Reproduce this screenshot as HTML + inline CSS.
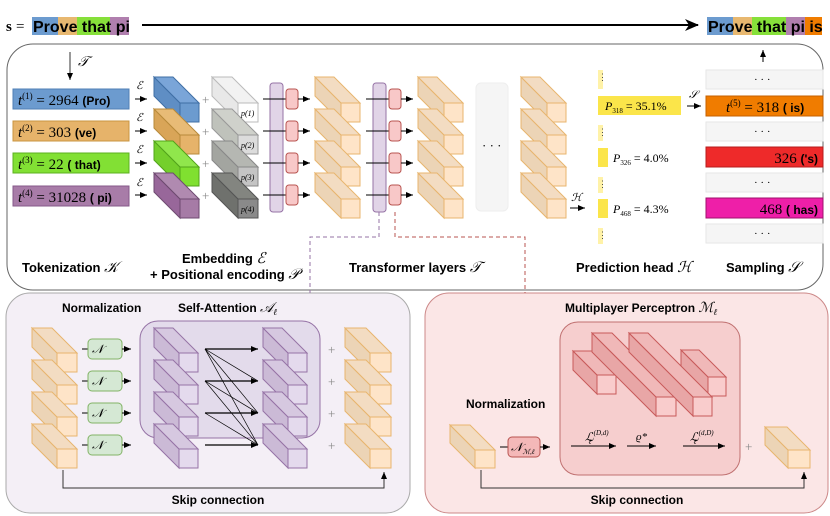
<!DOCTYPE html>
<html><head><meta charset="utf-8"><style>
body{margin:0;background:#fff}
svg{display:block}
.b{font-family:"Liberation Sans",sans-serif;font-weight:bold}
.m{font-family:"Liberation Serif",serif;font-style:italic}
.r{font-family:"Liberation Serif",serif}
</style></head><body>
<svg id="s" width="830" height="516" viewBox="0 0 830 516" xmlns="http://www.w3.org/2000/svg">
<defs>
<marker id="ah" markerWidth="8" markerHeight="8" refX="7" refY="4" orient="auto" markerUnits="userSpaceOnUse"><path d="M0,1 L7,4 L0,7 Z" fill="#000"/></marker>
<marker id="ahb" markerWidth="14" markerHeight="12" refX="13" refY="6" orient="auto" markerUnits="userSpaceOnUse"><path d="M0,0 L14,6 L0,12 L4,6 Z" fill="#000"/></marker>
</defs>
<text x="6" y="31" class="r" font-size="15" font-weight="bold">s</text>
<text x="16" y="31" class="r" font-size="15">=</text>
<rect x="32" y="17" width="26" height="18" fill="#6c9bcf"/><rect x="58" y="17" width="19" height="18" fill="#e8b870"/><rect x="77" y="17" width="33" height="18" fill="#86e03a"/><rect x="110" y="17" width="19" height="18" fill="#b07fae"/>
<text x="33" y="32" class="b" font-size="16">Prove that pi</text>
<line x1="142" y1="25" x2="698" y2="25" stroke="#000" stroke-width="2" marker-end="url(#ahb)"/>
<rect x="707" y="17" width="26" height="18" fill="#6c9bcf"/><rect x="733" y="17" width="19" height="18" fill="#e8b870"/><rect x="752" y="17" width="34" height="18" fill="#86e03a"/><rect x="786" y="17" width="19" height="18" fill="#b07fae"/><rect x="805" y="17" width="17" height="18" fill="#f07c00"/>
<text x="708" y="32" class="b" font-size="16">Prove that pi is</text>

<rect x="7" y="44" width="816" height="246" rx="26" fill="#fff" stroke="#666" stroke-width="1"/>
<line x1="70" y1="52" x2="70" y2="80" stroke="#333" marker-end="url(#ah)"/>
<text x="78" y="66" class="m" font-size="14">𝒯</text>

<g font-size="15">
<rect x="13" y="89" width="116" height="20" fill="#6c9bcf" stroke="#4f7fb5"/>
<text x="18" y="105"><tspan class="m">t</tspan><tspan class="r" font-size="9" dy="-6">(1)</tspan><tspan class="r" dy="6"> = 2964 </tspan><tspan class="b" font-size="12">(Pro)</tspan></text>
<rect x="13" y="121" width="116" height="20" fill="#e6b36a" stroke="#c99540"/>
<text x="18" y="137"><tspan class="m">t</tspan><tspan class="r" font-size="9" dy="-6">(2)</tspan><tspan class="r" dy="6"> = 303 </tspan><tspan class="b" font-size="12">(ve)</tspan></text>
<rect x="13" y="153" width="116" height="20" fill="#82e034" stroke="#5cb020"/>
<text x="18" y="169"><tspan class="m">t</tspan><tspan class="r" font-size="9" dy="-6">(3)</tspan><tspan class="r" dy="6"> = 22 </tspan><tspan class="b" font-size="12">( that)</tspan></text>
<rect x="13" y="186" width="116" height="20" fill="#a87ca8" stroke="#86598a"/>
<text x="18" y="202"><tspan class="m">t</tspan><tspan class="r" font-size="9" dy="-6">(4)</tspan><tspan class="r" dy="6"> = 31028 </tspan><tspan class="b" font-size="12">( pi)</tspan></text>
</g>
<g class="m" font-size="11">
<text x="136" y="89">ℰ</text><text x="136" y="121">ℰ</text><text x="136" y="153">ℰ</text><text x="136" y="186">ℰ</text>
</g>
<g stroke="#000" marker-end="url(#ah)">
<line x1="135" y1="99" x2="147" y2="99"/><line x1="135" y1="131" x2="147" y2="131"/><line x1="135" y1="163" x2="147" y2="163"/><line x1="135" y1="195" x2="147" y2="195"/>
</g>
<g fill="#888" font-size="13" class="r"><text x="202" y="104">+</text><text x="202" y="136">+</text><text x="202" y="168">+</text><text x="202" y="200">+</text></g>
<g id="prisms"></g>
<rect x="270" y="83" width="13" height="129" rx="3" fill="#e1d4e7" stroke="#9673a6"/>
<rect x="373" y="83" width="13" height="129" rx="3" fill="#e1d4e7" stroke="#9673a6"/>
<g id="rb"></g>
<rect x="476" y="83" width="32" height="128" rx="5" fill="#f5f5f5" stroke="#eee"/>
<text x="482" y="150" font-size="13" class="r">· · ·</text>
<text x="571" y="201" class="m" font-size="11">ℋ</text>
<line x1="570" y1="208" x2="585" y2="208" stroke="#000" marker-end="url(#ah)"/>

<g fill="#fff2a8"><rect x="598" y="70" width="5" height="19"/><rect x="598" y="125" width="5" height="16"/><rect x="598" y="177" width="5" height="16"/><rect x="598" y="228" width="5" height="16"/></g>
<g font-size="9" fill="#444"><text x="598" y="80">⋮</text><text x="598" y="135">⋮</text><text x="598" y="187">⋮</text><text x="598" y="238">⋮</text></g>
<rect x="598" y="96" width="83" height="19" fill="#fbe54a"/>
<text x="605" y="110" font-size="12"><tspan class="m">P</tspan><tspan class="r" font-size="7" dy="3">318</tspan><tspan class="r" dy="-3"> = 35.1%</tspan></text>
<rect x="598" y="148" width="10" height="19" fill="#fbe54a"/>
<text x="613" y="162" font-size="12"><tspan class="m">P</tspan><tspan class="r" font-size="7" dy="3">326</tspan><tspan class="r" dy="-3"> = 4.0%</tspan></text>
<rect x="598" y="199" width="10" height="19" fill="#fbe54a"/>
<text x="613" y="213" font-size="12"><tspan class="m">P</tspan><tspan class="r" font-size="7" dy="3">468</tspan><tspan class="r" dy="-3"> = 4.3%</tspan></text>
<text x="689" y="98" class="m" font-size="11">𝒮</text>
<line x1="687" y1="106" x2="701" y2="106" stroke="#000" marker-end="url(#ah)"/>

<line x1="763" y1="62" x2="763" y2="50" stroke="#000" marker-end="url(#ah)"/>
<g fill="#f5f5f5" stroke="#e6e6e6"><rect x="706" y="70" width="117" height="19"/><rect x="706" y="122" width="117" height="19"/><rect x="706" y="173" width="117" height="19"/><rect x="706" y="224" width="117" height="19"/></g>
<g font-size="11" class="r"><text x="754" y="83">· · ·</text><text x="754" y="135">· · ·</text><text x="754" y="186">· · ·</text><text x="754" y="237">· · ·</text></g>
<rect x="706" y="96" width="117" height="20" fill="#f07c00" stroke="#c66000"/>
<text x="726" y="112" font-size="15"><tspan class="m">t</tspan><tspan class="r" font-size="9" dy="-6">(5)</tspan><tspan class="r" dy="6"> = 318 </tspan><tspan class="b" font-size="12">( is)</tspan></text>
<rect x="706" y="147" width="117" height="20" fill="#ee2a2a" stroke="#b71c1c"/>
<text x="818" y="163" text-anchor="end" font-size="15"><tspan class="r">326 </tspan><tspan class="b" font-size="12">('s)</tspan></text>
<rect x="706" y="198" width="117" height="20" fill="#ee1fa8" stroke="#a0106e"/>
<text x="818" y="214" text-anchor="end" font-size="15"><tspan class="r">468 </tspan><tspan class="b" font-size="12">( has)</tspan></text>

<g class="b" font-size="13">
<text x="22" y="272">Tokenization <tspan class="m" font-weight="normal" font-size="15">𝒦</tspan></text>
<text x="182" y="263">Embedding <tspan class="m" font-weight="normal" font-size="15">ℰ</tspan></text>
<text x="150" y="279">+ Positional encoding <tspan class="m" font-weight="normal" font-size="15">𝒫</tspan></text>
<text x="349" y="272">Transformer layers <tspan class="m" font-weight="normal" font-size="15">𝒯</tspan></text>
<text x="576" y="272">Prediction head <tspan class="m" font-weight="normal" font-size="15">ℋ</tspan></text>
<text x="726" y="272">Sampling <tspan class="m" font-weight="normal" font-size="15">𝒮</tspan></text>
</g>

<rect x="6" y="293" width="404" height="220" rx="24" fill="#f4eff6" stroke="#aaa"/>
<rect x="425" y="293" width="403" height="220" rx="24" fill="#fbe6e6" stroke="#c88"/>
<path d="M379 212 V237 H310 V293" fill="none" stroke="#9673a6" stroke-dasharray="4,3"/>
<path d="M395 212 V237 H525 V293" fill="none" stroke="#b85450" stroke-dasharray="4,3"/>
<rect x="140" y="321" width="180" height="117" rx="18" fill="#e3dbeb" stroke="#9673a6"/>
<rect x="560" y="322" width="180" height="153" rx="18" fill="#f6cece" stroke="#c07070"/>
<g class="b" font-size="12">
<text x="62" y="312">Normalization</text>
<text x="178" y="312">Self-Attention <tspan class="m" font-weight="normal" font-size="14">𝒜</tspan><tspan class="m" font-weight="normal" font-size="9" dy="3">ℓ</tspan></text>
<text x="565" y="312">Multiplayer Perceptron <tspan class="m" font-weight="normal" font-size="14">ℳ</tspan><tspan class="m" font-weight="normal" font-size="9" dy="3">ℓ</tspan></text>
<text x="466" y="408">Normalization</text>
<text x="218" y="504" text-anchor="middle">Skip connection</text>
<text x="637" y="504" text-anchor="middle">Skip connection</text>
</g>
<g id="bot"></g>
<g fill="#888" font-size="13" class="r"><text x="328" y="354">+</text><text x="328" y="386">+</text><text x="328" y="418">+</text><text x="328" y="450">+</text><text x="745" y="451">+</text></g>
<path d="M63 470 V488 H384 V472" fill="none" stroke="#333" marker-end="url(#ah)"/>
<path d="M481 470 V488 H804 V472" fill="none" stroke="#333" marker-end="url(#ah)"/>
<line x1="500" y1="447" x2="508" y2="447" stroke="#000"/>
<rect x="508" y="437" width="32" height="20" rx="4" fill="#f4b8b8" stroke="#b85450"/>
<text x="511" y="451" font-size="12"><tspan class="m">𝒩</tspan><tspan class="m" font-size="7" dy="3">ℳ,ℓ</tspan></text>
<line x1="540" y1="447" x2="550" y2="447" stroke="#000" marker-end="url(#ah)"/>
<g stroke="#000" marker-end="url(#ah)"><line x1="571" y1="446" x2="616" y2="446"/><line x1="627" y1="446" x2="656" y2="446"/><line x1="683" y1="446" x2="725" y2="446"/></g>
<text x="585" y="441" font-size="12"><tspan class="m">ℒ</tspan><tspan class="m" font-size="7" dy="-6">(D,d)</tspan><tspan class="m" font-size="7" dx="-20" dy="9">ℓ</tspan></text>
<text x="636" y="440" class="m" font-size="11">ϱ*</text>
<text x="690" y="441" font-size="12"><tspan class="m">ℒ</tspan><tspan class="m" font-size="7" dy="-6">(d,D)</tspan><tspan class="m" font-size="7" dx="-20" dy="9">ℓ</tspan></text>
<g id="norms"></g>
</svg>
<script>
var NS="http://www.w3.org/2000/svg";
function el(p,t,a){var e=document.createElementNS(NS,t);for(var k in a)e.setAttribute(k,a[k]);p.appendChild(e);return e;}
function prism(g,x,y,w,h,d,side,top,front,st){
 el(g,"polygon",{points:[x-d,y-d,x,y,x,y+h,x-d,y+h-d].join(" "),fill:side,stroke:st});
 el(g,"polygon",{points:[x-d,y-d,x-d+w,y-d,x+w,y,x,y].join(" "),fill:top,stroke:st});
 el(g,"rect",{x:x,y:y,width:w,height:h,fill:front,stroke:st});
}
var P=document.getElementById("prisms");
var emb=[["#5f8ec4","#7aa5d8","#6c9bcf","#3f6fa5"],["#d9a558","#e8bb76","#e6b36a","#b88a3a"],["#74cf2c","#90e64c","#80e030","#52a41a"],["#98679a","#b08ab0","#a67ba6","#6e4a70"]];
var pos=[["#e8e8e8","#f2f2f2","#fff","#bbb"],["#bfc2bb","#cfd1cb","#dcdcdc","#999"],["#a3a5a0","#b5b7b2","#c4c4c4","#888"],["#6f716d","#838580","#8a8a8a","#555"]];
var ys=[103,135,167,199];
for(var i=0;i<4;i++){var c=emb[i];prism(P,180,ys[i],19,19,26,c[0],c[1],c[2],c[3]);}
for(var i=0;i<4;i++){var c=pos[i];prism(P,238,ys[i],20,19,26,c[0],c[1],c[2],c[3]);}
var T=document.createElementNS(NS,"g");P.appendChild(T);
var lbl=["p(1)","p(2)","p(3)","p(4)"];
for(var i=0;i<4;i++){var t=el(T,"text",{x:241,y:ys[i]+13,"font-size":"8","font-family":"Liberation Serif,serif","font-style":"italic"});t.textContent=lbl[i];}
var O=["#ecd4b6","#f3dcc2","#fee4c8","#e8b56e"];
[341,444,547].forEach(function(x){for(var i=0;i<4;i++)prism(P,x,ys[i],19,19,26,O[0],O[1],O[2],O[3]);});
var RB=document.getElementById("rb");
[[263,283,286,298,310],[366,386,389,401,413]].forEach(function(a){
 ys.forEach(function(y){var cy=y-4;
  el(RB,"line",{x1:a[0],y1:cy,x2:a[1]+8,y2:cy,stroke:"#000"});
  el(RB,"rect",{x:a[2],y:cy-10,width:12,height:20,rx:3,fill:"#f8c8c8",stroke:"#b85450"});
  el(RB,"line",{x1:a[3],y1:cy,x2:a[4],y2:cy,stroke:"#000","marker-end":"url(#ah)"});
 });});
var B=document.getElementById("bot");
var by=[353,385,417,449];
by.forEach(function(y){prism(B,57,y,20,19,25,O[0],O[1],O[2],O[3]);});
by.forEach(function(y){prism(B,370,y,21,19,25,O[0],O[1],O[2],O[3]);});
var PU=["#cbbad6","#d6c8e0","#e4daed","#9673a6"];
by.forEach(function(y){prism(B,179,y,19,19,25,PU[0],PU[1],PU[2],PU[3]);});
by.forEach(function(y){prism(B,288,y,19,19,25,PU[0],PU[1],PU[2],PU[3]);});
var ay=[349,381,413,445];
ay.forEach(function(a,i){ay.forEach(function(b,j){if(j>=i)el(B,"line",{x1:205,y1:a,x2:258,y2:b,stroke:"#000","stroke-width":a==b?1.2:0.7});});});
ay.forEach(function(b){el(B,"path",{d:"M251 "+(b-3)+" L258 "+b+" L251 "+(b+3)+"Z",fill:"#000"});});
var R=["#e8a6a6","#f0b8b8","#f9cccc","#c85a5a"];
prism(B,597,375,19,19,24,R[0],R[1],R[2],R[3]);
prism(B,708,377,18,19,27,R[0],R[1],R[2],R[3]);
prism(B,656,397,20,19,64,R[0],R[1],R[2],R[3]);
prism(B,693,397,19,19,64,R[0],R[1],R[2],R[3]);
prism(B,475,450,20,18,25,O[0],O[1],O[2],O[3]);
prism(B,788,450,22,18,23,O[0],O[1],O[2],O[3]);
var N=document.getElementById("norms");
ay.forEach(function(y){
 el(N,"line",{x1:82,y1:y,x2:88,y2:y,stroke:"#000"});
 el(N,"rect",{x:88,y:y-10,width:34,height:20,rx:4,fill:"#d5e8d4",stroke:"#82b366"});
 var t=el(N,"text",{x:92,y:y+4,"font-size":"12","font-family":"Liberation Serif,serif","font-style":"italic"});
 t.textContent="𝒩";
 var s=el(N,"tspan",{"font-size":"7",dy:"3"});s.textContent="𝒜,ℓ";
 el(N,"line",{x1:122,y1:y,x2:131,y2:y,stroke:"#000","marker-end":"url(#ah)"});
});
</script>
</body></html>
